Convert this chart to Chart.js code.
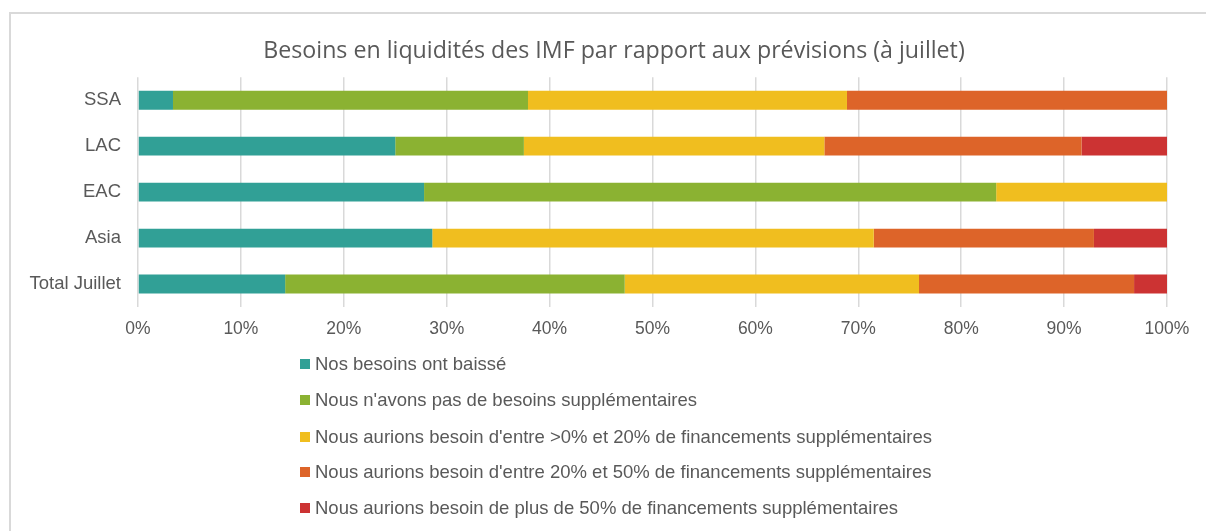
<!DOCTYPE html>
<html>
<head>
<meta charset="utf-8">
<script src="https://cdn.jsdelivr.net/npm/chart.js@4"></script>
<style>
  html, body { margin:0; padding:0; background:#fff; overflow:hidden; }
  #wrap { position:relative; width:1206px; height:531px; }
  #frame { position:absolute; left:9px; top:12px; width:1400px; height:700px;
           border-left:2px solid #d9d9d9; border-top:2px solid #d9d9d9; box-sizing:border-box; }
  canvas { position:absolute; left:0; top:0; }
  #legend { position:absolute; left:300px; top:351px; font-family:"Liberation Sans", Arial, sans-serif;
            font-size:18.5px; color:#595959; }
  .li { position:absolute; left:0; white-space:nowrap; height:20px; line-height:20px; }
  .li span.box { position:absolute; left:0; top:5px; width:10px; height:10px; }
  .li span.txt { position:absolute; left:15px; top:0; }
</style>
</head>
<body>
<div id="wrap">
  <div id="frame"></div>
  <canvas id="c" width="1206" height="531"></canvas>
  <div id="legend"></div>
</div>
<script>
const categories = ["SSA", "LAC", "EAC", "Asia", "Total Juillet"];
const seriesNames = [
  "Nos besoins ont baissé",
  "Nous n'avons pas de besoins supplémentaires",
  "Nous aurions besoin d'entre >0% et 20% de financements supplémentaires",
  "Nous aurions besoin d'entre 20% et 50% de financements supplémentaires",
  "Nous aurions besoin de plus de 50% de financements supplémentaires"
];
const besoinsBaisse   = [3.4, 25.0, 27.8, 28.6, 14.3];
const pasSupp         = [34.5, 12.5, 55.6, 0, 33.0];
const entre0et20      = [31.0, 29.2, 16.7, 42.9, 28.6];
const entre20et50     = [31.1, 25.0, 0, 21.4, 20.9];
const plusDe50        = [0, 8.3, 0, 7.1, 3.2];
const colors = ["#31A096", "#8BB232", "#F0BE1F", "#DD6429", "#CC3333"];
const xTicks = [0,10,20,30,40,50,60,70,80,90,100];
const title = "Besoins en liquidités des IMF par rapport aux prévisions (à juillet)";

const seriesValues = [besoinsBaisse, pasSupp, entre0et20, entre20et50, plusDe50];

const datasets = seriesValues.map((vals, i) => ({
  label: seriesNames[i],
  data: vals,
  backgroundColor: colors[i],
  borderWidth: 0,
  barPercentage: 0.41,
  categoryPercentage: 1.0
}));

// centre the title on the outer frame (x ≈ 614), like the reference
const titleShift = {
  id: 'titleShift',
  afterLayout(chart) {
    const tb = chart.titleBlock;
    if (tb) {
      const d = 614 - (tb.left + tb.right) / 2;
      tb.left += d; tb.right += d;
    }
  }
};

new Chart(document.getElementById('c'), {
  type: 'bar',
  data: { labels: categories, datasets },
  plugins: [titleShift],
  options: {
    responsive: false,
    animation: false,
    indexAxis: 'y',
    layout: { padding: { left: 28, right: 39, top: 0, bottom: 179 } },
    plugins: {
      legend: { display: false },
      tooltip: { enabled: false },
      title: {
        display: true,
        text: title,
        color: '#595959',
        font: { family: '"Open Sans", sans-serif', size: 23.2, weight: 'normal' },
        padding: { top: 37.5, bottom: 11.9 }
      }
    },
    scales: {
      x: {
        stacked: true,
        min: 0, max: 100,
        afterBuildTicks: (s) => { s.ticks = xTicks.map(v => ({ value: v })); },
        ticks: {
          callback: v => v + '%',
          color: '#595959',
          font: { family: '"Liberation Sans", Arial, sans-serif', size: 17.5 },
          padding: 12,
          maxRotation: 0
        },
        grid: { color: '#d9d9d9', lineWidth: 1.5, drawTicks: false },
        border: { display: false }
      },
      y: {
        stacked: true,
        afterFit: (s) => { s.width = 110; },
        ticks: {
          color: '#595959',
          font: { family: '"Liberation Sans", Arial, sans-serif', size: 18.5 },
          padding: 17
        },
        grid: { display: false, drawTicks: false },
        border: { display: false }
      }
    }
  }
});

const legendTops = [3, 39, 76, 111, 147];
const lg = document.getElementById('legend');
seriesNames.forEach((name, i) => {
  const d = document.createElement('div');
  d.className = 'li';
  d.style.top = legendTops[i] + 'px';
  const b = document.createElement('span'); b.className = 'box'; b.style.background = colors[i];
  const t = document.createElement('span'); t.className = 'txt'; t.textContent = name;
  d.appendChild(b); d.appendChild(t); lg.appendChild(d);
});
</script>
</body>
</html>
